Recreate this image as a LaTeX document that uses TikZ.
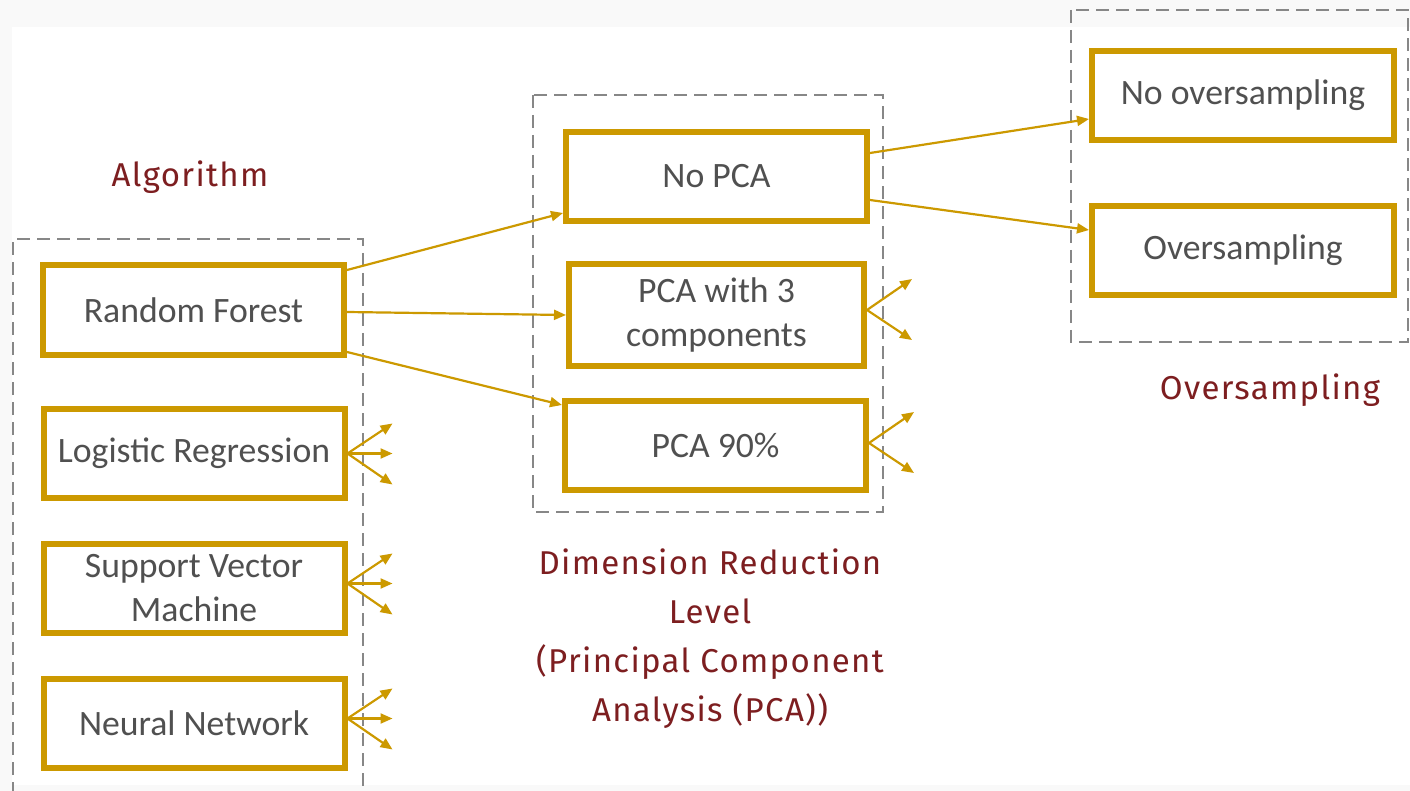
\documentclass[tikz,border=0pt]{standalone}
\usepackage{fontspec}
\setmainfont{Carlito}
\newfontfamily\labelfont[LetterSpace=4]{Fira Sans}
\usetikzlibrary{arrows.meta,calc}
\definecolor{gold}{RGB}{204,153,0}
\definecolor{boxtext}{RGB}{80,80,80}
\definecolor{wine}{RGB}{125,30,32}
\definecolor{frame}{RGB}{135,135,135}
\definecolor{paper}{RGB}{249,249,249}

\begin{document}
\begin{tikzpicture}[x=1pt,y=-1pt,
  choice/.style={draw=gold, line width=6pt, fill=white, minimum width=301pt,
    minimum height=89pt, inner sep=0pt, text=boxtext,
    font=\fontsize{35.7}{44}\selectfont, align=center},
  group/.style={draw=frame, line width=2pt, dash pattern=on 13pt off 7pt},
  heading/.style={text=wine, font=\labelfont\fontsize{33}{49}\selectfont,
    align=center, inner sep=0pt},
  link/.style={draw=gold, line width=2.2pt, -{Triangle[length=12pt,width=10pt]}}
]
% page background and white sheet
\fill[paper] (0,0) rectangle (1410,791);
\fill[white] (12,27) rectangle (1410,785);
\useasboundingbox (0,0) rectangle (1410,791);

% dashed group frames
\draw[group] (13,795) -- (13,239) -- (363,239) -- (363,795);
\draw[group] (533,95) rectangle (883,512);
\draw[group] (1071,10) rectangle (1408,342);

% algorithm choices
\node[choice] (rf)  at (193.5,310)   {Random Forest};
\node[choice] (lr)  at (194,453.5)   {Logistic Regression};
\node[choice] (svm) at (194,588.5)   {Support Vector\\Machine};
\node[choice] (nn)  at (194,723.5)   {Neural Network};

% dimension reduction choices
\node[choice] (nopca) at (716.5,176.5) {No PCA};
\node[choice, minimum width=295pt, minimum height=102pt] (pca3) at (716.5,315) {PCA with 3\\components};
\node[choice] (pca90) at (715.5,445.5) {PCA 90\%};

% oversampling choices
\node[choice, minimum width=302pt] (noover) at (1243,95.5)  {No oversampling};
\node[choice, minimum width=302pt] (over)   at (1243,250.5) {Oversampling};

% group headings
\node[heading, anchor=base] (alg) at (190,187) {Algorithm};
\node[heading, anchor=base] (ovs) at (1270,399) {Oversampling};
\node[heading] (dim) at (710,638.5) {Dimension Reduction\\Level\\(Principal Component\\Analysis (PCA))};

% Random Forest branches
\draw[link] ($(rf.east)+(0,-40)$) -- ($(nopca.west)+(0,36.5)$);
\draw[link] ($(rf.east)+(0,2)$) -- ($(pca3.west)+(0,0)$);
\draw[link] ($(rf.east)+(0,42)$) -- ($(pca90.west)+(0,-40.5)$);

% No PCA branches
\draw[link] ($(nopca.east)+(0,-23.5)$) -- ($(noover.west)+(0,23.5)$);
\draw[link] ($(nopca.east)+(0,23.5)$) -- ($(over.west)+(0,-20.5)$);

% collapsed branches of the remaining algorithms
\foreach \src/\dy in {lr/0, svm/-5, nn/-5} {
  \coordinate (\src-o)  at ($(\src.east)+(0,\dy)$);
  \coordinate (\src-up) at ($(\src-o)+(45,-30)$);
  \coordinate (\src-mid) at ($(\src-o)+(45,0)$);
  \coordinate (\src-dn) at ($(\src-o)+(45,31)$);
  \draw[link] (\src-o) -- (\src-up);
  \draw[link] (\src-o) -- (\src-mid);
  \draw[link] (\src-o) -- (\src-dn);
}

% collapsed branches of the PCA variants
\foreach \src/\dy in {pca3/-5, pca90/-2.5} {
  \coordinate (\src-o)  at ($(\src.east)+(0,\dy)$);
  \coordinate (\src-up) at ($(\src-o)+(45,-31)$);
  \coordinate (\src-dn) at ($(\src-o)+(45,30)$);
  \draw[link] (\src-o) -- (\src-up);
  \draw[link] (\src-o) -- (\src-dn);
}
\end{tikzpicture}
\end{document}
